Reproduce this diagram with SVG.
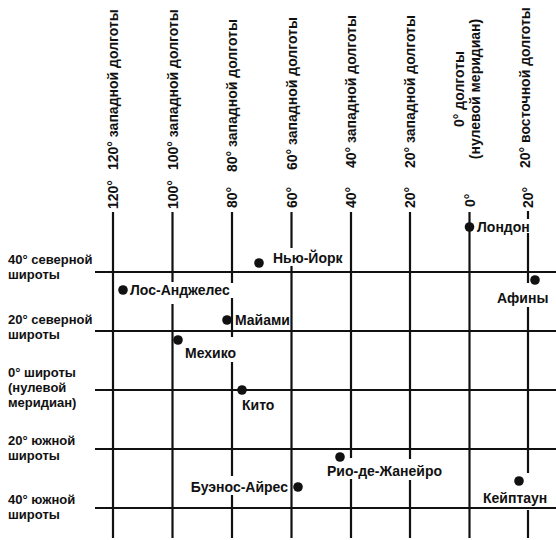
<svg xmlns="http://www.w3.org/2000/svg" width="556" height="540" viewBox="0 0 556 540">
<style>
.ln{stroke:#111;stroke-width:2.2;fill:none}
.t{font-family:"Liberation Sans",Arial,sans-serif;font-weight:bold;font-size:14px;fill:#111}
.lt{font-family:"Liberation Sans",Arial,sans-serif;font-weight:bold;font-size:13px;fill:#111}
.dot{fill:#111}
</style>
<rect width="556" height="540" fill="#fff"/>
<g id="connectors">
  <path class="ln" d="M95 272H556M95 331H556M95 390H556M95 449H556M95 508H556"/>
  <path class="ln" d="M113 212V538"/>
  <path class="ln" d="M172.5 212V282M172.5 304V538"/>
  <path class="ln" d="M232 212V283M232 298V337M232 362V476M232 495V538"/>
  <path class="ln" d="M291.5 212V248M291.5 266V538"/>
  <path class="ln" d="M351 212V458M351 479V538"/>
  <path class="ln" d="M410 212V459M410 480V538"/>
  <path class="ln" d="M469.5 212V538"/>
  <path class="ln" d="M528 211V219M528 233V283M528 307V473M528 510V538"/>
</g>
<g id="meridians">
  <g id="m120"><text class="t" transform="translate(118,209) rotate(-90)">120°</text><text class="t" transform="translate(118,170) rotate(-90)">120° западной долготы</text></g>
  <g id="m100"><text class="t" transform="translate(177.5,209) rotate(-90)">100°</text><text class="t" transform="translate(177.5,170) rotate(-90)">100° западной долготы</text></g>
  <g id="m80"><text class="t" transform="translate(237,208) rotate(-90)">80°</text><text class="t" transform="translate(237,172) rotate(-90)">80° западной долготы</text></g>
  <g id="m60"><text class="t" transform="translate(296.5,208) rotate(-90)">60°</text><text class="t" transform="translate(296.5,170) rotate(-90)">60° западной долготы</text></g>
  <g id="m40"><text class="t" transform="translate(356,208) rotate(-90)">40°</text><text class="t" transform="translate(356,168) rotate(-90)">40° западной долготы</text></g>
  <g id="m20w"><text class="t" transform="translate(415,208) rotate(-90)">20°</text><text class="t" transform="translate(415,168) rotate(-90)">20° западной долготы</text></g>
  <g id="m0"><text class="t" transform="translate(474.5,207) rotate(-90)">0°</text><text class="t" text-anchor="middle" transform="translate(464,89) rotate(-90)">0° долготы</text><text class="t" text-anchor="middle" transform="translate(480,89) rotate(-90)">(нулевой меридиан)</text></g>
  <g id="m20e"><text class="t" transform="translate(533,208) rotate(-90)">20°</text><text class="t" transform="translate(530,168) rotate(-90)">20° восточной долготы</text></g>
</g>
<g id="parallels">
  <g id="p40n"><text class="lt" x="8" y="264">40° северной</text><text class="lt" x="8" y="279">широты</text></g>
  <g id="p20n"><text class="lt" x="8" y="324">20° северной</text><text class="lt" x="8" y="339">широты</text></g>
  <g id="p0"><text class="lt" x="8" y="377">0° широты</text><text class="lt" x="8" y="392">(нулевой</text><text class="lt" x="8" y="407">меридиан)</text></g>
  <g id="p20s"><text class="lt" x="8" y="445">20° южной</text><text class="lt" x="8" y="460">широты</text></g>
  <g id="p40s"><text class="lt" x="8" y="504">40° южной</text><text class="lt" x="8" y="519">широты</text></g>
</g>
<g id="cities">
  <g id="london"><circle class="dot" cx="469.5" cy="227" r="4.8"/><text class="t" x="477" y="232">Лондон</text></g>
  <g id="athens"><circle class="dot" cx="535" cy="280" r="4.8"/><text class="t" x="497" y="303">Афины</text></g>
  <g id="newyork"><circle class="dot" cx="259" cy="263" r="4.8"/><text class="t" x="273" y="263">Нью-Йорк</text></g>
  <g id="losangeles"><circle class="dot" cx="123" cy="290" r="4.8"/><text class="t" x="130" y="295">Лос-Анджелес</text></g>
  <g id="miami"><circle class="dot" cx="227" cy="320" r="4.8"/><text class="t" x="235" y="325">Майами</text></g>
  <g id="mexico"><circle class="dot" cx="178" cy="340" r="4.8"/><text class="t" x="185" y="358">Мехико</text></g>
  <g id="quito"><circle class="dot" cx="242" cy="390" r="4.8"/><text class="t" x="242" y="410">Кито</text></g>
  <g id="rio"><circle class="dot" cx="340" cy="457" r="4.8"/><text class="t" x="327" y="476">Рио-де-Жанейро</text></g>
  <g id="buenosaires"><circle class="dot" cx="298" cy="487" r="4.8"/><text class="t" text-anchor="end" x="288" y="492">Буэнос-Айрес</text></g>
  <g id="capetown"><circle class="dot" cx="519" cy="481" r="4.8"/><text class="t" x="483" y="503">Кейптаун</text></g>
</g>
</svg>
